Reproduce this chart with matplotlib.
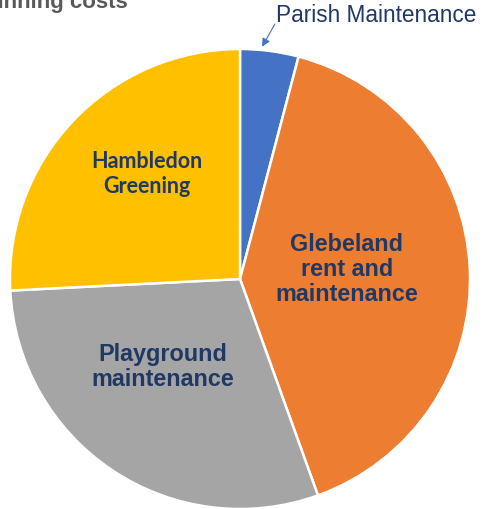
import matplotlib.pyplot as plt
import numpy as np

# running costs split (share)
categories = ["Parish Maintenance", "Glebeland rent and maintenance",
              "Playground maintenance", "Hambledon Greening"]
values = [4.1, 40.4, 29.7, 25.8]
colors = ["#4472C4", "#ED7D31", "#A5A5A5", "#FFC000"]

fig = plt.figure(figsize=(4.86, 5.10), dpi=100)
ax = fig.add_axes([10 / 486, 0, 460 / 486, 460 / 510])

wedges, _ = ax.pie(values, colors=colors, startangle=90, counterclock=False,
                   radius=1, wedgeprops=dict(edgecolor="white", linewidth=1.8))
ax.set_xlim(-1, 1)
ax.set_ylim(-1, 1)
ax.set_aspect("equal")
ax.axis("off")

navy = "#203864"
ax.text(-0.405, 0.46, "Hambledon\nGreening", ha="center", va="center",
        fontsize=15.5, fontweight="bold", color=navy, family="Lato",
        linespacing=1.22)
ax.text(0.465, 0.045, "Glebeland\nrent and\nmaintenance", ha="center", va="center",
        fontsize=16.8, fontweight="bold", color=navy, family="Liberation Sans",
        linespacing=1.12)
ax.text(-0.335, -0.378, "Playground\nmaintenance", ha="center", va="center",
        fontsize=16.8, fontweight="bold", color=navy, family="Liberation Sans",
        linespacing=1.12)

# callout for the small slice
ax.text(0.157, 1.148, categories[0], ha="left", va="center", fontsize=16.3,
        color=navy, family="Liberation Sans", clip_on=False)
ax.annotate("", xy=(0.096, 1.01), xytext=(0.152, 1.109),
            annotation_clip=False,
            arrowprops=dict(arrowstyle="-|>", color="#4472C4", lw=0.8,
                            mutation_scale=12, shrinkA=0, shrinkB=0))

fig.text(128 / 486, 1 - 8 / 510, "Running costs", ha="right", va="baseline",
         fontsize=16, fontweight="bold", color="#595959", family="Liberation Sans")

fig.savefig("out.png", dpi=100)
